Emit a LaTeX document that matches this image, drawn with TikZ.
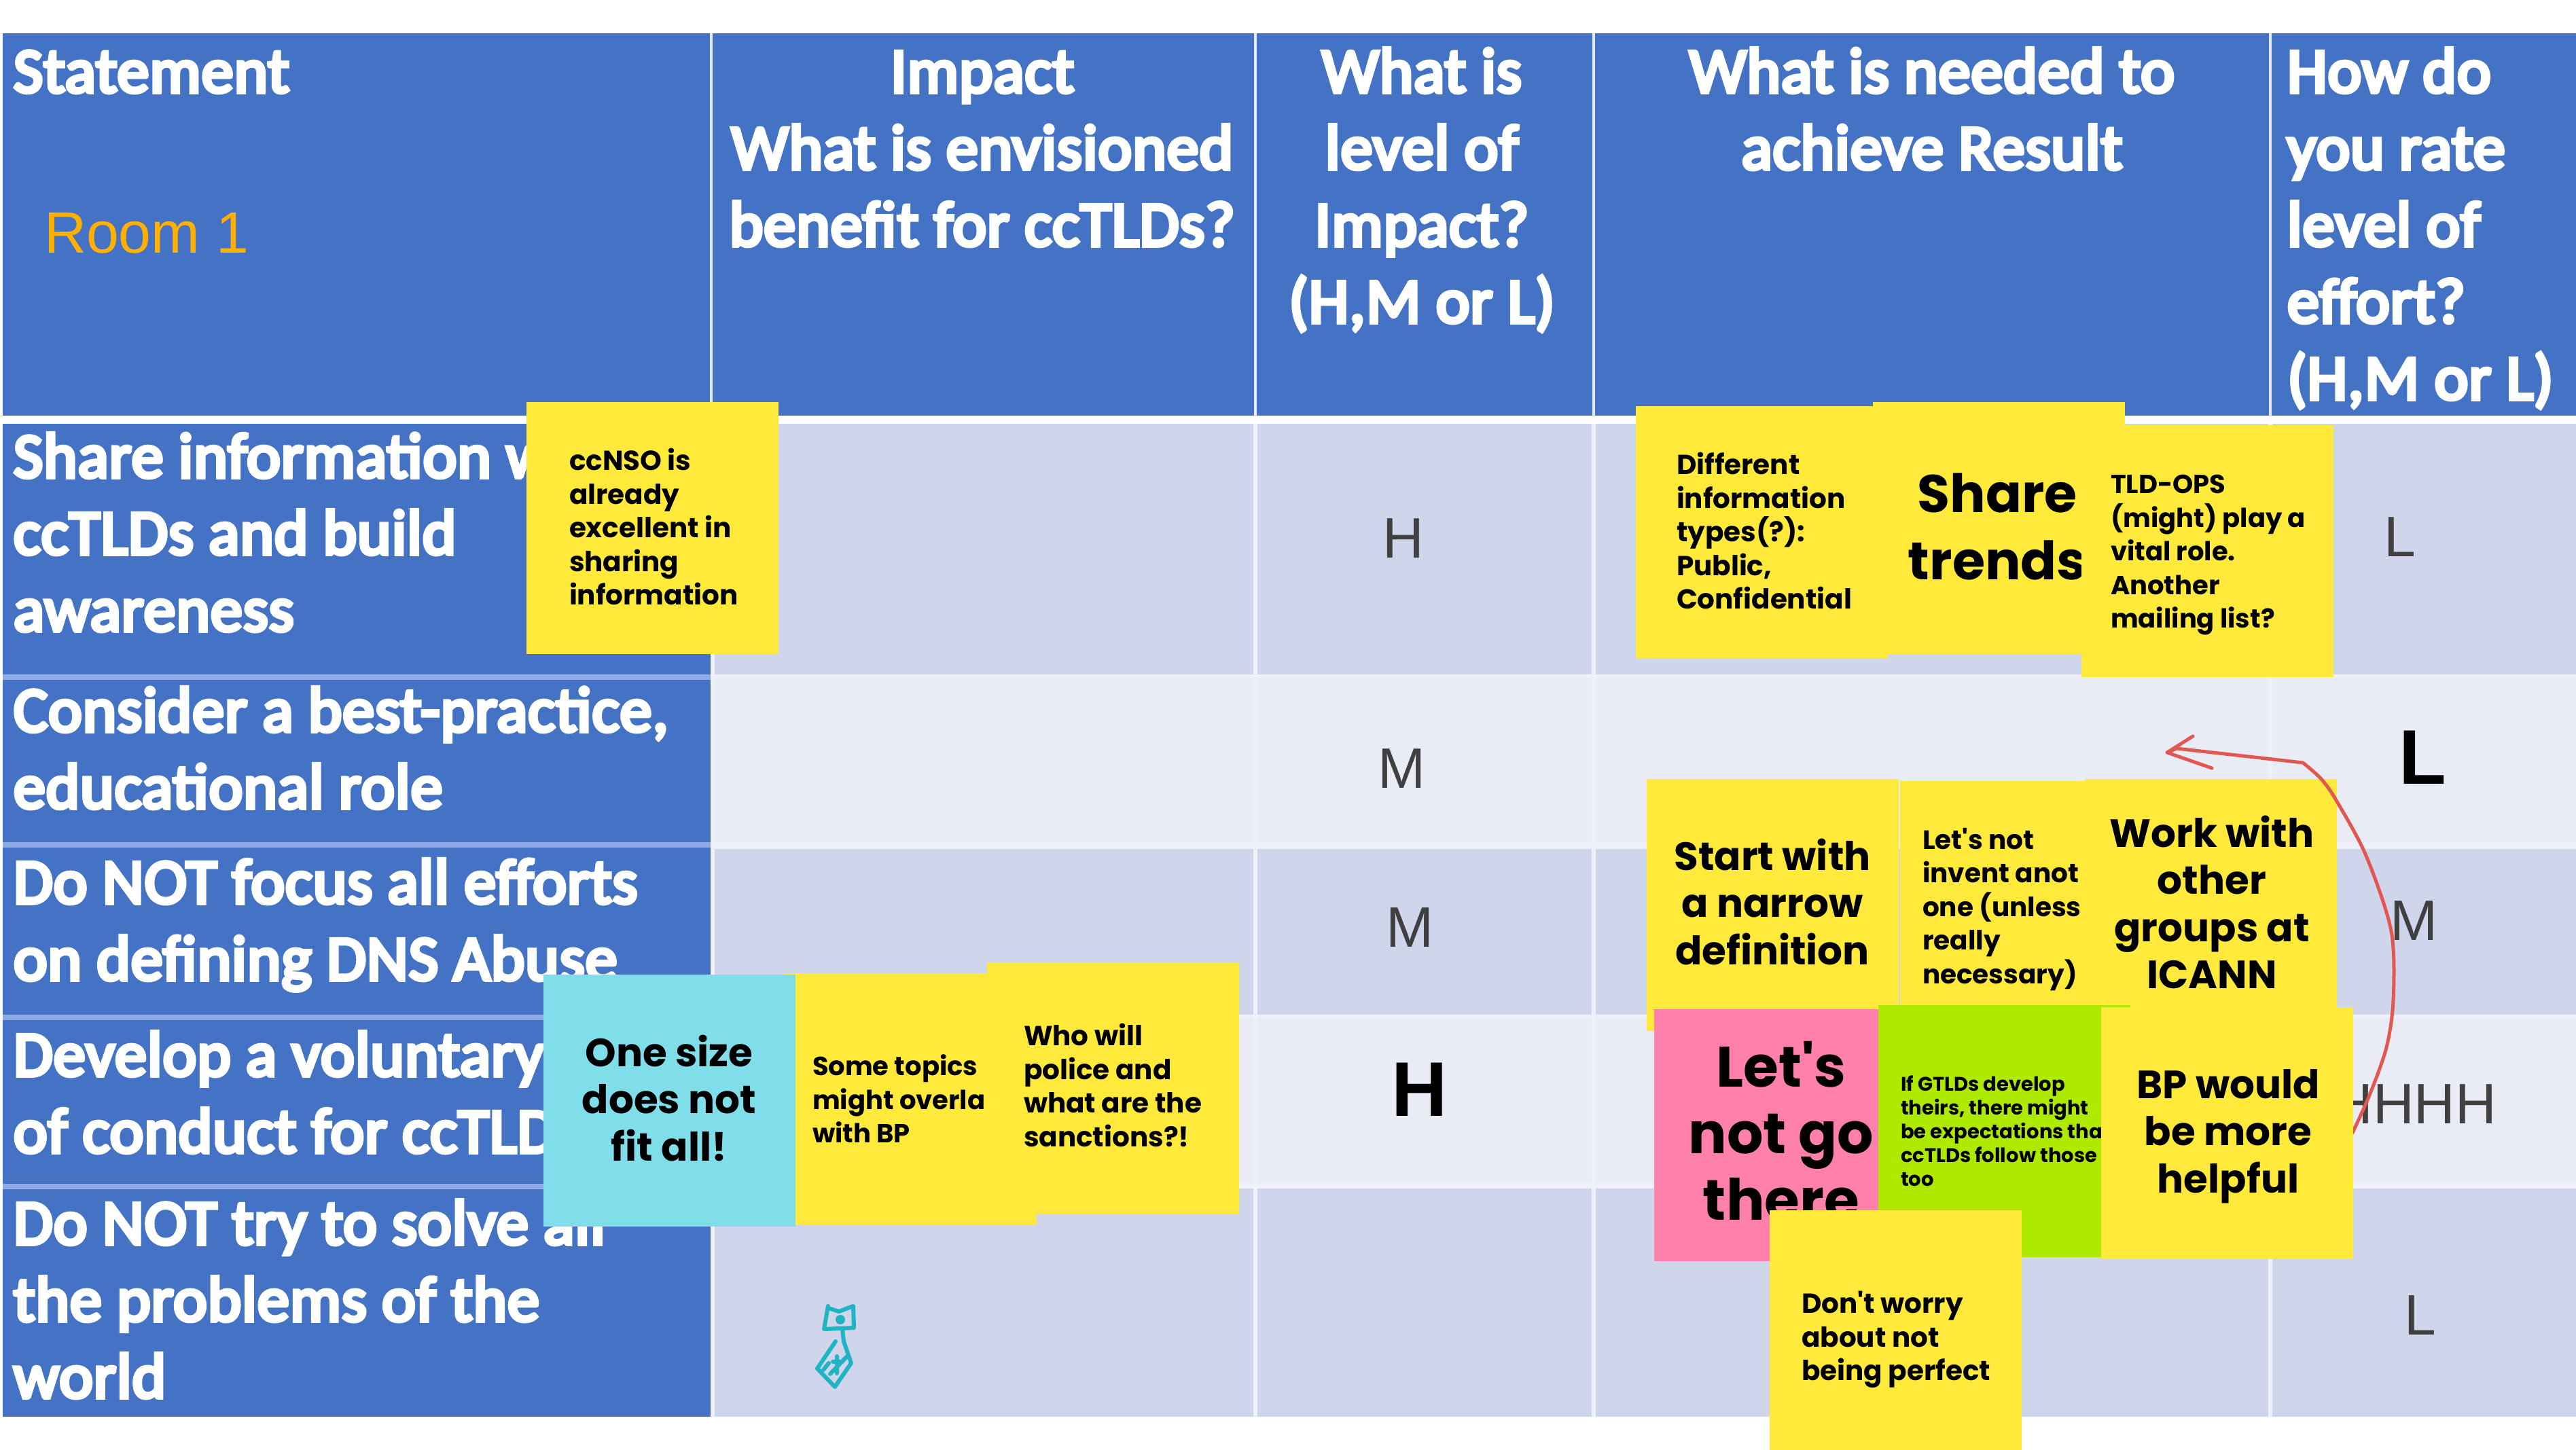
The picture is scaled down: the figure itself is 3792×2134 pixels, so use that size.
\documentclass[tikz,border=0pt]{standalone}
\usepackage{fontspec}
\setmainfont{Carlito}
\newfontfamily\hdrf{Carlito}[FakeBold=6,LetterSpace=1.2]
\newfontfamily\arialf{Liberation Sans}
\newfontfamily\stickyf{Poppins}
\definecolor{hdrblue}{HTML}{4472C4}
\definecolor{rowdark}{HTML}{CFD5EA}
\definecolor{rowlight}{HTML}{E9EBF5}
\definecolor{rowgap}{HTML}{EFF1FA}
\definecolor{sepblue}{HTML}{8EABE6}
\definecolor{noteyellow}{HTML}{FFE93B}
\definecolor{notecyan}{HTML}{80DEEA}
\definecolor{notepink}{HTML}{FF80AB}
\definecolor{notegreen}{HTML}{AEEA00}
\definecolor{roomorange}{HTML}{FFB000}
\definecolor{rategray}{HTML}{404040}
\definecolor{redink}{HTML}{E0584F}
\definecolor{tealink}{HTML}{1FB3C4}
\newcommand\fl{\rule{0pt}{1em}}
\newcommand\hl{\rule{0pt}{88pt}}
\tikzset{
  x=1pt,y=-1pt,
  every node/.style={inner sep=0pt,outer sep=0pt},
  hdrtext/.style={text=white,font=\hdrf\fontsize{94}{113}\selectfont,align=left,anchor=north west},
  hdrctr/.style={text=white,font=\hdrf\fontsize{94}{113}\selectfont,align=center,anchor=north},
  rate/.style={text=rategray,font=\arialf\fontsize{84}{96}\selectfont,anchor=center},
  ratebold/.style={text=black,font=\arialf\fontsize{114}{130}\selectfont\bfseries,anchor=center},
  notebox/.style={minimum width=371pt,minimum height=371pt,anchor=north west,fill=#1},
  notebox/.default=noteyellow,
  small/.style={text=black,font=\stickyf\fontsize{40.5}{49.5}\selectfont\bfseries,align=left,anchor=north west},
  tiny/.style={text=black,font=\stickyf\fontsize{29}{35}\selectfont\bfseries,align=left,anchor=north west},
  mid/.style={text=black,font=\stickyf\fontsize{58}{69.5}\selectfont\bfseries,align=center,anchor=north},
  big/.style={text=black,font=\stickyf\fontsize{84}{98}\selectfont\bfseries,align=center,anchor=north},
}
\begin{document}
\begin{tikzpicture}
\useasboundingbox (0,0) rectangle (3792,2134);
\fill[white] (0,0) rectangle (3792,2134);
% table fills
\fill[hdrblue] (4,49) rectangle (3792,612);
\fill[rowgap] (1047,993) rectangle (3792,2086);
\fill[rowdark] (1047,624) rectangle (3792,993);
\fill[rowlight] (1047,998) rectangle (3792,1240);
\fill[rowdark] (1047,1250) rectangle (3792,1494);
\fill[rowlight] (1047,1498) rectangle (3792,1743);
\fill[rowdark] (1047,1750) rectangle (3792,2086);
\fill[hdrblue] (4,624) rectangle (1047,2086);
\foreach \y in {993,1240,1494,1743} \fill[sepblue] (4,\y) rectangle (1047,\y+8);
\foreach \x in {1047,1848,2346,3342} \fill[white!85!hdrblue] (\x-2,49) rectangle (\x+2,612);
\foreach \x in {1049,1848,2346,3342} \fill[rowgap] (\x-3,624) rectangle (\x+3,2086);
% header
\node[hdrtext] (hstatement) at (20,48) {\hl Statement};
\node[text=roomorange,font=\arialf\fontsize{86}{96}\selectfont,anchor=base west] (room) at (65,372) {Room 1};
\node[hdrctr] (himpact) at (1446,48) {\hl Impact\\What is envisioned\\benefit for ccTLDs?};
\node[hdrctr] (hlevel) at (2093,48) {\hl What is\\level of\\Impact?\\(H,M or L)};
\node[hdrctr] (hneeded) at (2844,48) {\hl What is needed to\\achieve Result};
\node[hdrtext] (heffort) at (3367,48) {\hl How do\\you rate\\level of\\effort?\\(H,M or L)};
% statements
\node[hdrtext] (s1) at (20,615) {\hl Share information w\\ccTLDs and build\\awareness};
\node[hdrtext] (s2) at (20,989) {\hl Consider a best-practice,\\educational role};
\node[hdrtext] (s3) at (20,1242) {\hl Do NOT focus all efforts\\on defining DNS Abuse};
\node[hdrtext] (s4) at (20,1496) {\hl Develop a voluntary\\of conduct for ccTLD};
\node[hdrtext] (s5) at (20,1744) {\hl Do NOT try to solve all\\the problems of the\\world};
% ratings
\node[rate] (r1a) at (2066,793) {H};
\node[rate] (r1b) at (3533,791) {L};
\node[rate] (r2a) at (2063,1132) {M};
\node[ratebold] (r2b) at (3566,1115) {L};
\node[rate] (r3a) at (2075,1366) {M};
\node[rate] (r3b) at (3553,1356) {M};
\node[ratebold] (r4a) at (2090,1604) {H};
\node[rate,anchor=east] (r4b) at (3675,1626) {HHHH};
\node[rate] (r5b) at (3563,1937) {L};
% tie doodle
\draw[tealink,line width=6pt,line join=round,line cap=round]
  (1219,1923) -- (1213,1957) -- (1257,1955) -- (1256,1923) -- (1235,1931) -- (1219,1926)
  (1240,1957) -- (1242,1975) -- (1253,2007) -- (1229,2042) -- (1203,2015) -- (1230,1975)
  (1212,2017) -- (1220,2007) (1222,2023) -- (1247,1997) (1232,2022) -- (1232,1997) (1226,2005) -- (1240,2005);
\fill[tealink] (1237,1943) circle (7);
% notes
\node[notebox] (n1) at (775,592) {};
\node[small] (n1t) at (838,652) {\fl ccNSO is\\already\\excellent in\\sharing\\information};
\node[notebox] (n2) at (2408,598) {};
\node[small] (n2t) at (2468,658) {\fl Different\\information\\types(?):\\Public,\\Confidential};
\node[notebox] (n3) at (2757,592) {};
\node[big,font=\stickyf\fontsize{78}{99}\selectfont\bfseries] (n3t) at (2940,676) {\fl Share\\trends};
\node[notebox] (n4) at (3064,626) {};
\node[small,font=\stickyf\fontsize{38.5}{49.5}\selectfont\bfseries] (n4t) at (3107,688) {\fl TLD-OPS\\(might) play a\\vital role.\\Another\\mailing list?};
\node[notebox=noteyellow] (n6) at (1155,1433) {};
\node[small,font=\stickyf\fontsize{38.5}{49.5}\selectfont\bfseries] (n6t) at (1196,1545) {\fl Some topics\\might overla\\with BP};
\node[notebox=notecyan] (n5) at (800,1435) {};
\node[mid] (n5t) at (985,1512) {\fl One size\\does not\\fit all!};
\node[notebox] (n7) at (1453,1417) {};
\node[small] (n7t) at (1507,1499) {\fl Who will\\police and\\what are the\\sanctions?!};
\node[notebox] (n8) at (2424,1147) {};
\node[mid] (n8t) at (2609,1223) {\fl Start with\\a narrow\\definition};
\node[notebox] (n9) at (2797,1150) {};
\node[small,font=\stickyf\fontsize{39}{49.5}\selectfont\bfseries] (n9t) at (2830,1211) {\fl Let's not\\invent anot\\one (unless\\really\\necessary)};
\node[notebox] (n10) at (3069,1147) {};
\node[mid] (n10t) at (3256,1189) {\fl Work with\\other\\groups at\\ICANN};
\node[notebox=notepink] (n11) at (2435,1486) {};
\node[big] (n11t) at (2622,1516) {\fl Let's\\not go\\there};
\node[notebox=notegreen] (n12) at (2765,1480) {};
\node[tiny] (n12t) at (2798,1577) {\fl If GTLDs develop\\theirs, there might\\be expectations tha\\ccTLDs follow those\\too};
\draw[redink,line width=5pt,line join=round,line cap=round]
  plot[smooth] coordinates {(3463,1668) (3489,1610) (3513,1542) (3523,1473) (3520,1371) (3483,1260) (3440,1180) (3417,1147) (3390,1123)}
  -- (3204,1102) -- (3190,1108) -- (3228,1084) (3190,1108) -- (3256,1131);
\node[notebox] (n13) at (3093,1483) {};
\node[mid] (n13t) at (3280,1559) {\fl BP would\\be more\\helpful};
\node[notebox] (n14) at (2605,1782) {};
\node[small] (n14t) at (2652,1893) {\fl Don't worry\\about not\\being perfect};
\end{tikzpicture}
\end{document}
